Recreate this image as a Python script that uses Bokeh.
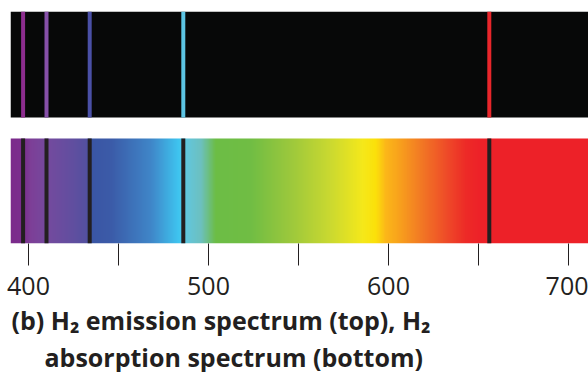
import numpy as np
from bokeh.plotting import figure
from bokeh.models import FixedTicker, Range1d, Title
from bokeh.embed import file_html
from bokeh.resources import INLINE

# ---- data ----
line_nm = [397, 410, 434, 486, 656]                     # hydrogen lines (nm)
emission_colors = ["#8c2d8e", "#8650a8", "#4a50a6", "#5cc5e4", "#e8262b"]
stop_nm = [390, 396.7, 401, 410.6, 423, 431.7, 434.4, 445.6, 467.8, 483.3,
           487.8, 495.6, 503.9, 523.3, 545.6, 567.8, 585.6, 592.8, 598.3,
           603.9, 617.8, 631.7, 642.8, 651, 712]
stop_colors = ["#7b2a8b", "#7b2d8e", "#7d3f97", "#744a9e", "#634e9f", "#55509f",
               "#3a55a4", "#3b5ba8", "#3f86c8", "#3ec5f0", "#62c6dc", "#6cc0c0",
               "#6cbd45", "#70bd44", "#9cc83c", "#cbd930", "#f5e81b", "#fbe10a",
               "#fbb719", "#f9a81b", "#f27a24", "#ee4c28", "#ed2a27", "#ed2128",
               "#ed2128"]
major_ticks = [400, 500, 600, 700]
minor_ticks = [450, 550, 650]
title_line1 = "(b) H\u2082 emission spectrum (top), H\u2082"
title_line2 = "absorption spectrum (bottom)"

NM0, NM1 = 390, 712
PX_PER_NM = 1.8
W, H = 588, 372
LEFT, TOP, BOTTOM = 10, 11, 129

p = figure(width=W, height=H,
           x_range=Range1d(NM0, NM0 + (W - LEFT) / PX_PER_NM),
           y_range=Range1d(0, H - TOP - BOTTOM),
           output_backend="svg", toolbar_location=None,
           min_border_left=LEFT, min_border_right=0, min_border_top=TOP,
           min_border_bottom=BOTTOM, y_axis_type=None)
p.outline_line_color = None
p.grid.visible = False
p.background_fill_color = "white"
p.border_fill_color = "white"

# top: emission spectrum (black band + coloured lines)
p.quad(left=[NM0], right=[NM1], bottom=[126], top=[232],
       fill_color="#070808", line_color=None)
p.segment(x0=line_nm, y0=[126] * 5, x1=line_nm, y1=[232] * 5,
          line_color=emission_colors, line_width=4)

# bottom: absorption spectrum (gradient + dark lines)
grid_nm = np.linspace(NM0, NM1, 1288)
def hex_to_rgb(h):
    return [int(h[i:i + 2], 16) for i in (1, 3, 5)]
rgb = np.array([hex_to_rgb(c) for c in stop_colors], dtype=float)
img = np.zeros((1, grid_nm.size), dtype=np.uint32)
view = img.view(dtype=np.uint8).reshape((1, grid_nm.size, 4))
for k in range(3):
    view[0, :, k] = np.round(np.interp(grid_nm, stop_nm, rgb[:, k])).astype(np.uint8)
view[0, :, 3] = 255
p.image_rgba(image=[img], x=NM0, y=0, dw=NM1 - NM0, dh=105)
p.segment(x0=line_nm, y0=[0] * 5, x1=line_nm, y1=[105] * 5,
          line_color="#231f20", line_width=4)

# axis
ax = p.xaxis[0]
ax.ticker = FixedTicker(ticks=major_ticks, minor_ticks=minor_ticks)
ax.axis_line_color = None
ax.major_tick_in = 0
ax.minor_tick_in = 0
ax.major_tick_out = 22
ax.minor_tick_out = 22
ax.major_tick_line_color = "#231f20"
ax.minor_tick_line_color = "#231f20"
ax.major_tick_line_width = 1
ax.minor_tick_line_width = 1
ax.major_label_text_font = "Open Sans"
ax.major_label_text_font_size = "25px"
ax.major_label_text_color = "#231f20"
ax.major_label_standoff = 11

# caption (two lines under the axis)
for txt, off, so in [(title_line1, 1, 7), (title_line2, 34, -6)]:
    p.add_layout(Title(text=txt, align="left", offset=off, standoff=so,
                       text_font="Open Sans", text_font_style="bold",
                       text_font_size="25px", text_color="#231f20"), "below")

open("out.html", "w").write(file_html(p, INLINE))
